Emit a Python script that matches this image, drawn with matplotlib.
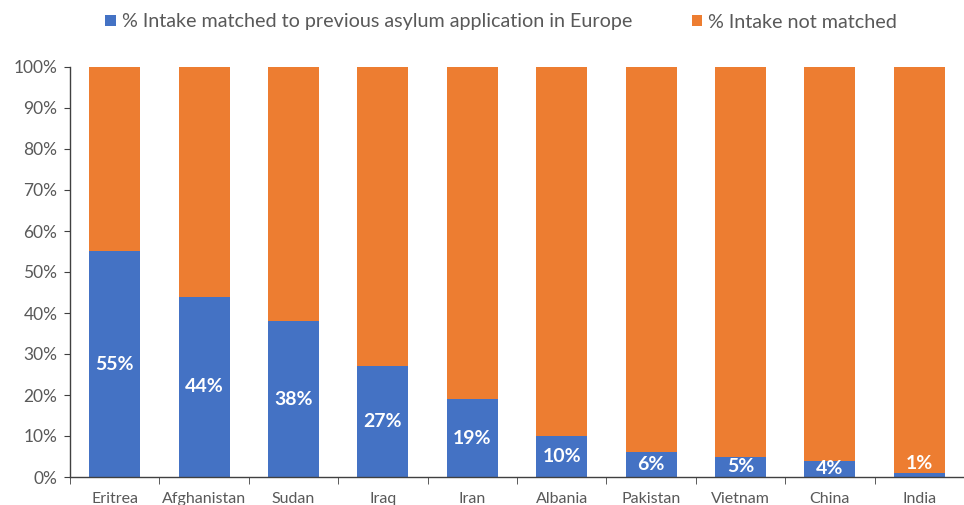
import matplotlib
matplotlib.use("Agg")
import matplotlib.pyplot as plt
from matplotlib.patches import Patch
import numpy as np

countries = ["Eritrea", "Afghanistan", "Sudan", "Iraq", "Iran",
             "Albania", "Pakistan", "Vietnam", "China", "India"]
matched = [55, 44, 38, 27, 19, 10, 6, 5, 4, 1]
not_matched = [100 - v for v in matched]
yticks = [0, 10, 20, 30, 40, 50, 60, 70, 80, 90, 100]
series_names = ["% Intake matched to previous asylum application in Europe",
                "% Intake not matched"]

BLUE = "#4472C4"
ORANGE = "#ED7D31"
GREY = "#595959"

plt.rcParams["font.family"] = ["Lato", "DejaVu Sans"]

fig = plt.figure(figsize=(9.64, 5.05), dpi=100)
W, H = 964, 505
ax = fig.add_axes([70 / W, 28 / H, (964 - 70) / W, (477 - 67) / H])

x = np.arange(len(countries))
width = 0.57
ax.bar(x, matched, width, color=BLUE, zorder=2)
ax.bar(x, not_matched, width, bottom=matched, color=ORANGE, zorder=2)

for xi, v in zip(x, matched):
    ypos = v / 2 if v >= 4 else v + 2.4
    ax.text(xi, ypos, f"{v}%", ha="center", va="center", color="white",
            fontsize=14, fontweight="bold", zorder=3)

ax.set_xlim(-0.5, 9.455)
ax.set_ylim(0, 100)
ax.set_yticks(yticks)
ax.set_yticklabels([f"{t}%" for t in yticks])
ax.set_xticks(x)
ax.set_xticklabels(countries)
ax.set_xticks(np.arange(-0.5, len(countries), 1.0), minor=True)

for s in ["top", "right"]:
    ax.spines[s].set_visible(False)
for s in ["left", "bottom"]:
    ax.spines[s].set_color("#404040")
    ax.spines[s].set_linewidth(1.0)

ax.tick_params(axis="y", length=4, color="#404040", labelcolor=GREY,
               labelsize=12.5, pad=5)
ax.tick_params(axis="x", which="major", length=0, labelcolor=GREY,
               labelsize=11.5, pad=11)
ax.tick_params(axis="x", which="minor", length=5, color="#404040")

handles = [Patch(facecolor=BLUE), Patch(facecolor=ORANGE)]
fig.legend(handles, series_names, loc="center", bbox_to_anchor=(0.52, 1 - 22 / H),
           ncol=2, frameon=False, fontsize=14.2, labelcolor=GREY,
           handlelength=0.55, handleheight=0.55, handletextpad=0.3,
           columnspacing=3.0)

fig.savefig("out.png", dpi=100)
